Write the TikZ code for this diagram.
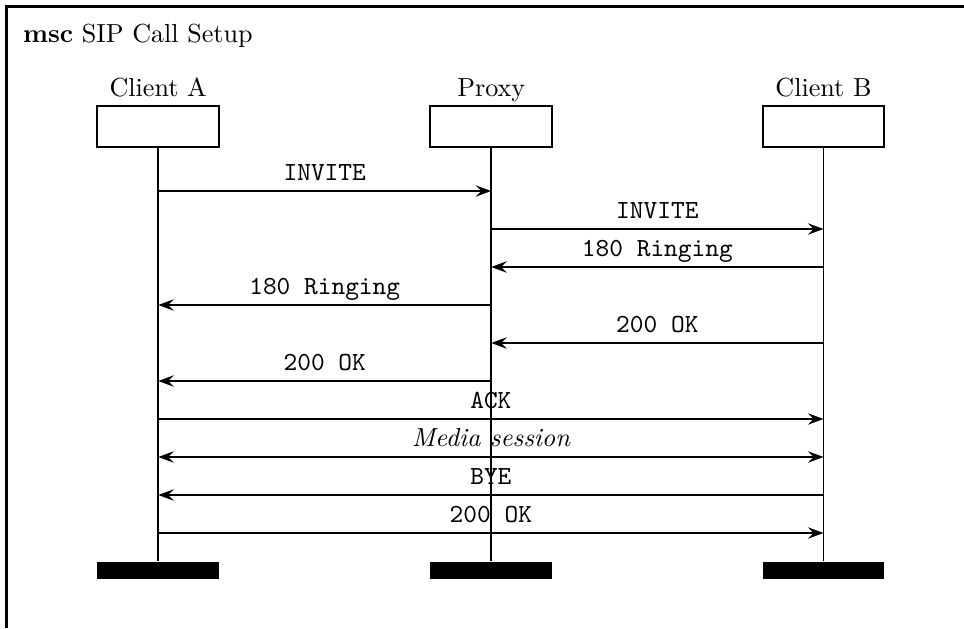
\documentclass[tikz,border=0pt]{standalone}
\usetikzlibrary{arrows.meta}
\begin{document}
\begin{tikzpicture}[x=0.3831pt,y=-0.3831pt,
  instbox/.style={draw,line width=0.75pt,minimum width=46.7pt,minimum height=15.7pt,inner sep=0pt,fill=white},
  endbar/.style={fill=black,draw=none,minimum width=46.7pt,minimum height=6.4pt,inner sep=0pt},
  iname/.style={anchor=base,inner sep=0pt},
  lifeline/.style={line width=0.7pt},
  tip/.style={},
  msg/.style={line width=0.5pt,-{Stealth[length=6pt,width=4.4pt,inset=2.2pt]}},
  bimsg/.style={line width=0.5pt,{Stealth[length=6pt,width=4.4pt,inset=2.2pt]}-{Stealth[length=6pt,width=4.4pt,inset=2.2pt]}},
  mlabel/.style={anchor=base,inner sep=0pt,font=\ttfamily},
  frameline/.style={line width=0.8pt}]
\useasboundingbox (0,0) rectangle (964,628);
% frame (only top and left edges visible)
\coordinate (fTL) at (6.5,6.5);
\coordinate (fTR) at (964,6.5);
\coordinate (fBL) at (6.5,628);
\draw[frameline] (fTR) -- (fTL) -- (fBL);
\node[anchor=base west,inner sep=0pt] (title) at (22.5,42) {\textbf{msc} SIP Call Setup};
% instances
\foreach \n/\x/\t in {A/158.2/Client A,P/491.2/Proxy,B/823.5/Client B}{
  \node[instbox] (head\n) at (\x,126.2) {};
  \node[iname] (name\n) at (\x,96.5) {\t};
  \node[endbar] (end\n) at (\x,570.3) {};
  \draw[lifeline] (head\n.south) -- (end\n.north);
}
% message levels
\foreach \i/\y in {1/191,2/229,3/267,4/305,5/343,6/381,7/419,8/457,9/495,10/533}{
  \coordinate (A\i) at (158.2,\y);
  \coordinate (P\i) at (491.2,\y);
  \coordinate (B\i) at (823.5,\y);
}
\draw[msg] (A1) -- (P1) node[mlabel,pos=0.5,yshift=3.9pt] (l1) {INVITE};
\draw[msg] (P2) -- (B2) node[mlabel,pos=0.5,yshift=3.9pt] (l2) {INVITE};
\draw[msg] (B3) -- (P3) node[mlabel,pos=0.5,yshift=3.9pt] (l3) {180 Ringing};
\draw[msg] (P4) -- (A4) node[mlabel,pos=0.5,yshift=3.9pt] (l4) {180 Ringing};
\draw[msg] (B5) -- (P5) node[mlabel,pos=0.5,yshift=3.9pt] (l5) {200 OK};
\draw[msg] (P6) -- (A6) node[mlabel,pos=0.5,yshift=3.9pt] (l6) {200 OK};
\draw[msg] (A7) -- (B7) node[mlabel,pos=0.5,yshift=3.9pt] (l7) {ACK};
\draw[bimsg] (A8) -- (B8) node[mlabel,font=\itshape,pos=0.5,yshift=3.9pt] (l8) {Media session};
\draw[msg] (B9) -- (A9) node[mlabel,pos=0.5,yshift=3.9pt] (l9) {BYE};
\draw[msg] (A10) -- (B10) node[mlabel,pos=0.5,yshift=3.9pt] (l10) {200 OK};
\end{tikzpicture}
\end{document}
